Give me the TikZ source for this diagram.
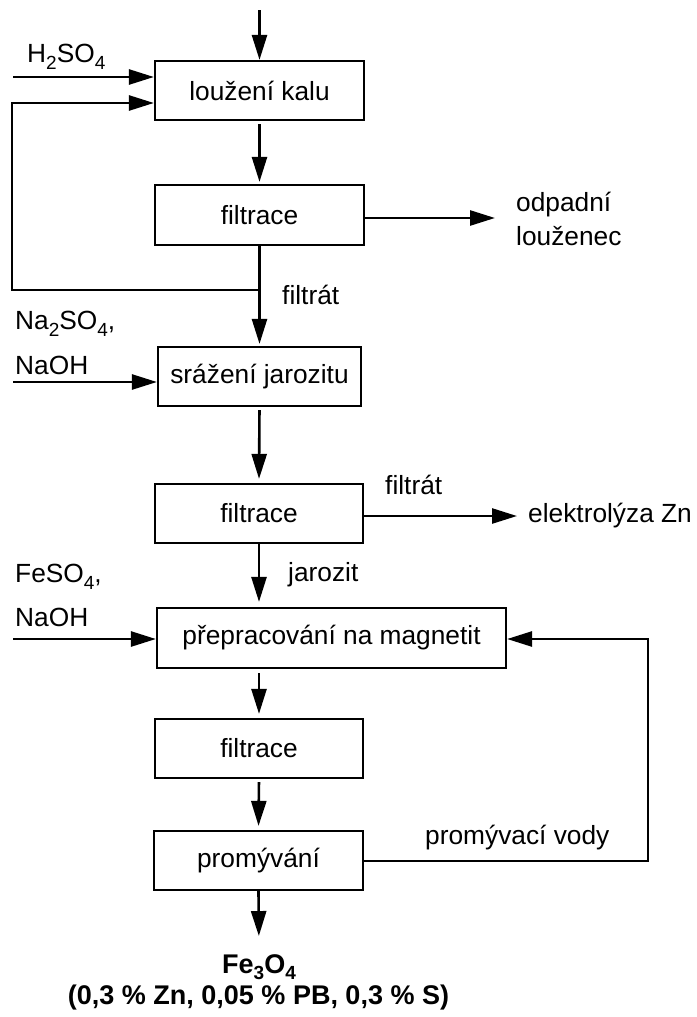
\documentclass[tikz,border=0pt]{standalone}
\usepackage{fontspec}
\setmainfont{Liberation Sans}
\usetikzlibrary{arrows.meta,calc}
\newcommand{\chsub}[1]{\raisebox{-6.5pt}{\fontsize{19}{20}\selectfont #1}}
\begin{document}
\begin{tikzpicture}[x=1pt,y=-1pt,
  box/.style={draw,line width=2.2pt,inner sep=0pt,font=\fontsize{26.3}{30}\selectfont},
  lab/.style={inner sep=0pt,anchor=west,font=\fontsize{26.3}{30}\selectfont},
  blab/.style={inner sep=0pt,font=\fontsize{27}{31}\selectfont\bfseries},
  arr/.style={line width=2.6pt,-{Triangle[length=25pt,width=15pt]}},
  ln/.style={line width=2.5pt}]
\useasboundingbox (0,0) rectangle (696,1017);
% boxes
\node[box,minimum width=209pt,minimum height=59pt] (b1) at (259.5,90.5) {loužení kalu};
\node[box,minimum width=209pt,minimum height=60pt] (b2) at (259.5,215) {filtrace};
\node[box,minimum width=203pt,minimum height=59pt] (b3) at (259.5,376.5) {srážení jarozitu};
\node[box,minimum width=208pt,minimum height=59pt] (b4) at (259,513.5) {filtrace};
\node[box,minimum width=349pt,minimum height=60pt] (b5) at (331.5,638) {přepracování na magnetit};
\node[box,minimum width=208pt,minimum height=59pt] (b6) at (259,748.5) {filtrace};
\node[box,minimum width=209pt,minimum height=59pt] (b7) at (258.5,860.5) {promývání};
% labels
\node[lab] (h2so4) at (27,57) {H\chsub{2}SO\chsub{4}};
\node[lab] (na2so4) at (15,324) {Na\chsub{2}SO\chsub{4},};
\node[lab] (naoh1) at (15,365) {NaOH};
\node[lab] (odp) at (516,205) {odpadní};
\node[lab] (lou) at (516,236) {louženec};
\node[lab] (filt1) at (282,295) {filtrát};
\node[lab] (filt2) at (385,485) {filtrát};
\node[lab] (elz) at (528,516) {elektrolýza Zn};
\node[lab] (jar) at (288,575) {jarozit};
\node[lab] (feso4) at (15,577) {FeSO\chsub{4},};
\node[lab] (naoh2) at (15,617) {NaOH};
\node[lab] (pv) at (425,838) {promývací vody};
\node[blab] (fe) at (259,967) {Fe\chsub{3}O\chsub{4}};
\node[blab] (comp) at (258.5,998) {(0,3 \% Zn, 0,05 \% PB, 0,3 \% S)};
% coordinates
\coordinate (top) at (259.5,10);
\coordinate (h2in) at (13,77);
\coordinate (j1) at (259.5,290);
\coordinate (l1) at (12,290);
\coordinate (l2) at (12,103);
\coordinate (o1) at (495,218);
\coordinate (nain) at (13,382);
\coordinate (o2) at (517,516);
\coordinate (fein) at (13,639);
\coordinate (r1) at (648,861);
% connectors
\draw[arr] (top) -- (b1.north);
\draw[arr] (h2in) -- (h2in -| b1.west);
\draw[arr] (j1) -- (l1) -- (l2) -- (l2 -| b1.west);
\draw[arr,shorten <=3pt,shorten >=2pt] (b1.south) -- (b2.north);
\draw[arr] (b2.east |- o1) -- (o1);
\draw[arr,shorten >=2pt] (b2.south) -- (b3.north);
\draw[arr] (nain) -- (nain -| b3.west);
\draw[arr,shorten <=3pt,shorten >=4pt] (b3.south) -- (b4.north);
\draw[arr] (b4.east |- o2) -- (o2);
\draw[arr,shorten >=5pt] (b4.south) -- (b4.south |- b5.north);
\draw[arr] (fein) -- (fein -| b5.west);
\draw[arr,shorten <=4pt,shorten >=4pt] (b6.north |- b5.south) -- (b6.north);
\draw[arr,shorten <=3pt,shorten >=4pt] (b6.south) -- (b7.north);
\draw[arr] (b7.east |- r1) -- (r1) -- (r1 |- fein) -- (b5.east |- fein);
\draw[arr,shorten >=18pt] (b7.south) -- (fe.north);
\end{tikzpicture}
\end{document}
